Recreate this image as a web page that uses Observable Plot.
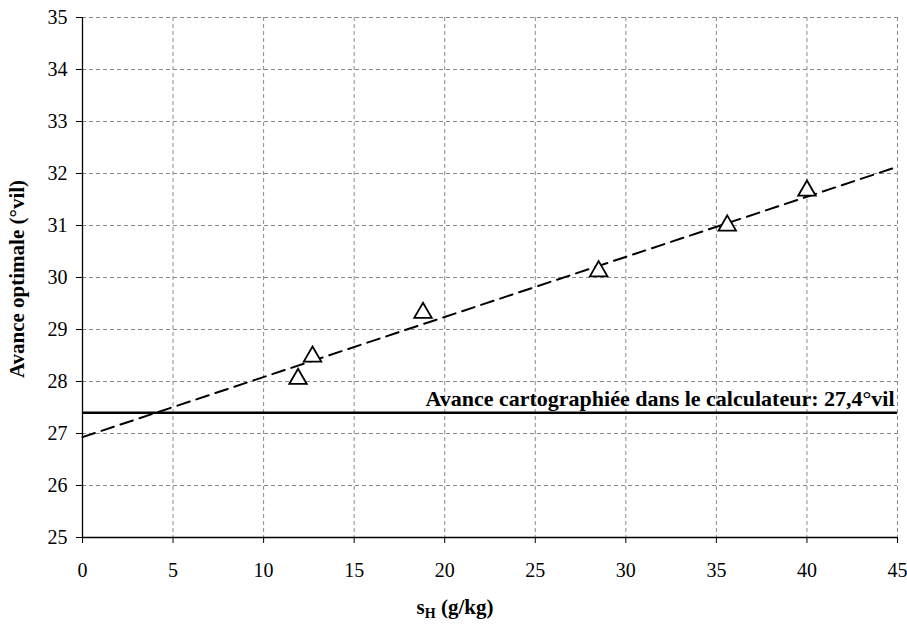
<!DOCTYPE html>
<html>
<head>
<meta charset="utf-8">
<script src="https://cdn.jsdelivr.net/npm/d3@7"></script>
<script src="https://cdn.jsdelivr.net/npm/@observablehq/plot@0.6"></script>
<style>
  html, body { margin: 0; padding: 0; background: #fff; }
  #chart svg { display: block; }
</style>
</head>
<body>
<div id="chart"></div>
<script>
// Measured points: humidity s_H (g/kg) vs optimal advance (°vil)
const sH = [11.9, 12.7, 18.8, 28.5, 35.6, 40.0];
const avanceOptimale = [28.05, 28.48, 29.32, 30.12, 31.0, 31.67];
// Dashed trend line (at its ends)
const trendX = [0, 45];
const trendY = [26.93, 32.13];
// Mapped advance in the ECU
const avanceCarto = 27.4;
const avanceCartoLabel = "Avance cartographiée dans le calculateur: 27,4°vil";
// Ticks
const xTicks = [0, 5, 10, 15, 20, 25, 30, 35, 40, 45];
const yTicks = [25, 26, 27, 28, 29, 30, 31, 32, 33, 34, 35];
const yTitle = "Avance optimale (°vil)";

const points = sH.map((x, i) => ({x, y: avanceOptimale[i]}));
const trend = trendX.map((x, i) => ({x, y: trendY[i]}));

const W = 907, H = 625;
const fontFamily = "Liberation Serif";
const grid = {stroke: "#8a8a8a", strokeOpacity: 1, strokeWidth: 1, strokeDasharray: "4,3"};

const chart = Plot.plot({
  width: W,
  height: H,
  marginLeft: 82,
  marginRight: 10,
  marginTop: 17,
  marginBottom: 88,
  style: {fontFamily: fontFamily, fontSize: "20px", color: "#000", background: "#fff"},
  x: {domain: [0, 45], label: null},
  y: {domain: [25, 35], label: null},
  marks: [
    Plot.gridX(xTicks.filter(d => d > 0), grid),
    Plot.gridY(yTicks.filter(d => d > 25), grid),
    Plot.axisX({ticks: xTicks, tickSize: 6, tickPadding: 19, label: null, stroke: "#000", fontFamily}),
    Plot.axisY({ticks: yTicks, tickSize: 6, tickPadding: 9, label: null, stroke: "#000", fontFamily}),
    Plot.ruleX([0], {stroke: "#000", strokeWidth: 1.3}),
    Plot.ruleY([25], {stroke: "#000", strokeWidth: 1.3}),
    Plot.line(trend, {x: "x", y: "y", stroke: "#000", strokeWidth: 2, strokeDasharray: "13,7"}),
    Plot.ruleY([avanceCarto], {stroke: "#000", strokeWidth: 2.6}),
    Plot.text([avanceCartoLabel], {x: 45, y: avanceCarto, text: d => d, textAnchor: "end", lineAnchor: "middle", dx: -3, dy: -14, fontWeight: "bold", fontSize: 22, fill: "#000", fontFamily}),
    Plot.dot(points, {x: "x", y: "y", symbol: "triangle", r: 6.5, fill: "#fff", stroke: "#000", strokeWidth: 1.8})
  ]
});

const svg = d3.select(chart);
// Y axis title
svg.append("text")
  .attr("transform", `translate(19,279) rotate(-90)`)
  .attr("text-anchor", "middle")
  .attr("dominant-baseline", "middle")
  .attr("font-family", fontFamily)
  .attr("font-size", 21)
  .attr("font-weight", "bold")
  .attr("fill", "#000")
  .text(yTitle);
// X axis title with subscript
const xt = svg.append("text")
  .attr("x", 455)
  .attr("y", 614)
  .attr("text-anchor", "middle")
  .attr("font-family", fontFamily)
  .attr("font-size", 21)
  .attr("font-weight", "bold")
  .attr("fill", "#000");
xt.append("tspan").text("s");
xt.append("tspan").attr("font-size", 14).attr("dy", 4).text("H");
xt.append("tspan").attr("dy", -4).text(" (g/kg)");

svg.attr("font-family", fontFamily);
svg.selectAll("g").attr("font-family", fontFamily);
svg.selectAll("text").attr("font-family", fontFamily);

document.getElementById("chart").append(chart);
</script>
</body>
</html>
